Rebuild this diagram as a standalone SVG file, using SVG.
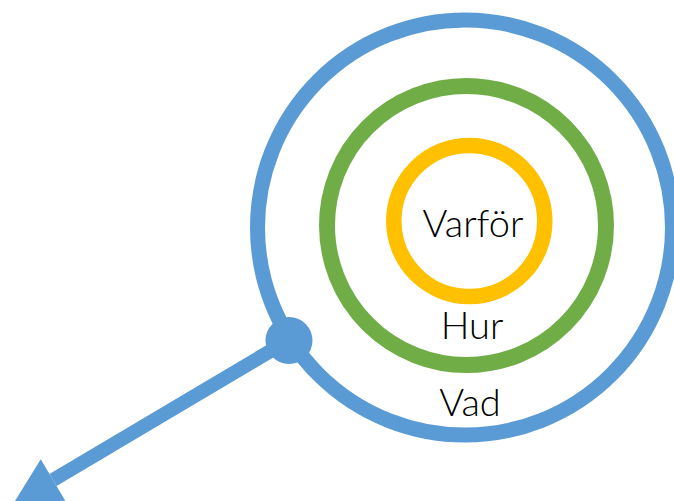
<svg xmlns="http://www.w3.org/2000/svg" width="674" height="501" viewBox="0 0 674 501">
  <style>
    .ring { fill: none; }
    .lbl { font-family: "Lato", "Open Sans", "Liberation Sans", sans-serif; font-weight: 300; font-size: 38px; fill: #000000; text-anchor: middle; }
  </style>
  <defs>
    <marker id="arrow" markerUnits="userSpaceOnUse" viewBox="0 -24 46 48" refX="0" refY="0" markerWidth="46" markerHeight="48" orient="auto" overflow="visible">
      <path d="M0,-24 L46,0 L0,24 Z" fill="#5B9BD5"/>
    </marker>
  </defs>
  <rect width="674" height="501" fill="#ffffff"/>
  <g id="vad">
    <circle class="ring" cx="465" cy="227.5" r="207.5" stroke="#5B9BD5" stroke-width="15"/>
    <text class="lbl" x="470" y="416">Vad</text>
  </g>
  <g id="hur">
    <circle class="ring" cx="466.5" cy="225.5" r="139.5" stroke="#70AD47" stroke-width="16"/>
    <text class="lbl" x="472" y="339">Hur</text>
  </g>
  <g id="varfor">
    <circle class="ring" cx="469.3" cy="221" r="75.5" stroke="#FFC000" stroke-width="15.5"/>
    <text class="lbl" x="473" y="237">Varför</text>
  </g>
  <g id="connectors">
    <line x1="289" y1="340" x2="53" y2="480" stroke="#5B9BD5" stroke-width="14" marker-end="url(#arrow)"/>
    <circle cx="289" cy="340.5" r="23.5" fill="#5B9BD5"/>
  </g>
</svg>
